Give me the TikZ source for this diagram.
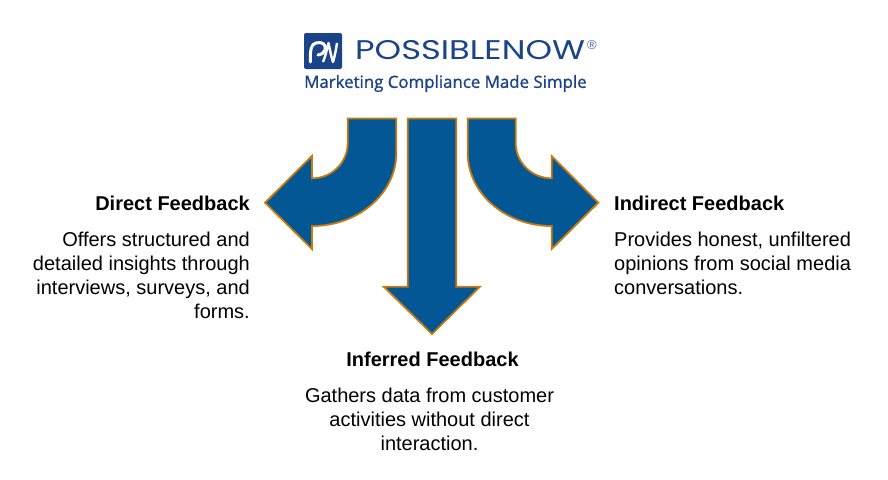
\documentclass[tikz,border=0pt]{standalone}
\usepackage{fontspec}
\setmainfont{Liberation Sans}
\newfontfamily\logofont{Poppins}
\newfontfamily\tagfont[FakeBold=1.2]{Open Sans}
\definecolor{arrowblue}{HTML}{045795}
\definecolor{arroworange}{HTML}{C97A0C}
\definecolor{logoblue}{HTML}{1B4388}
\tikzset{
    fbarrow/.style={draw=arroworange,fill=arrowblue,line width=1.8pt,line join=miter},
    fbtitle/.style={font=\fontsize{20}{24}\selectfont\bfseries,inner sep=0pt},
    fbbody/.style={font=\fontsize{20}{24}\selectfont,inner sep=0pt},
}
\begin{document}
\begin{tikzpicture}[x=1pt,y=-1pt]
    \useasboundingbox (0,0) rectangle (888,479);
    % logo
    \fill[logoblue,rounded corners=2pt] (304,33) rectangle (342,69);
    \draw[white,line width=3pt,line cap=round] (310.5,62) .. controls (310,50) and (311,44) .. (316,43) .. controls (322,41) and (327,45) .. (325,50) .. controls (324,53) and (321,55) .. (318,55);
    \draw[white,line width=2.4pt,line join=round] (323,62) .. controls (326,55) and (327,48) .. (328.5,43) .. controls (330,50) and (331,56) .. (333,62) .. controls (335,55) and (336,50) .. (337,43);
    \node[text=logoblue,font=\logofont\fontsize{27}{27}\selectfont,inner sep=0pt,anchor=west] (brand) at (355,50.5) {\scalebox{1.25}[1]{POSSIBLENOW}};
    \node[text=logoblue!80,font=\fontsize{13}{13}\selectfont,inner sep=0pt] (regmark) at (592,45) {®};
    \node[text=logoblue,font=\tagfont\fontsize{16.85}{17}\selectfont,inner sep=0pt,anchor=west] (tagline) at (304,83.5) {Marketing Compliance Made Simple};
    % arrows
    \draw[fbarrow] (347.7,118.5)--(396.3,118.5)--(396.3,153) .. controls (396.3,193.3) and (358.6,226) .. (312,226)--(312,249)--(265,202.7)--(312,156)--(312,178.3) .. controls (331.7,178.3) and (347.7,162.5) .. (347.7,143)--cycle;
    \draw[fbarrow] (515.7,118.5)--(467.7,118.5)--(467.7,153) .. controls (467.7,193.3) and (505.3,226) .. (551.7,226)--(551.7,249)--(598.3,202.7)--(551.7,156)--(551.7,178.3) .. controls (531.8,178.3) and (515.7,162.5) .. (515.7,143)--cycle;
    \draw[fbarrow] (407.7,118.5)--(456.3,118.5)--(456.3,286.7)--(480,286.7)--(432,334)--(383.7,286.7)--(407.7,286.7)--cycle;
    % texts
    \node[fbtitle,anchor=east] (direct) at (250,203) {Direct Feedback};
    \node[fbbody,anchor=north east,align=right] (directtxt) at (250,231.5) {Offers structured and\\detailed insights through\\interviews, surveys, and\\forms.};
    \node[fbtitle,anchor=west] (indirect) at (614,203) {Indirect Feedback};
    \node[fbbody,anchor=north west,align=left] (indirecttxt) at (614,231.5) {Provides honest, unfiltered\\opinions from social media\\conversations.};
    \node[fbtitle] (inferred) at (432.5,359) {Inferred Feedback};
    \node[fbbody,anchor=north,align=center] (inferredtxt) at (429.5,388) {Gathers data from customer\\activities without direct\\interaction.};
\end{tikzpicture}
\end{document}
